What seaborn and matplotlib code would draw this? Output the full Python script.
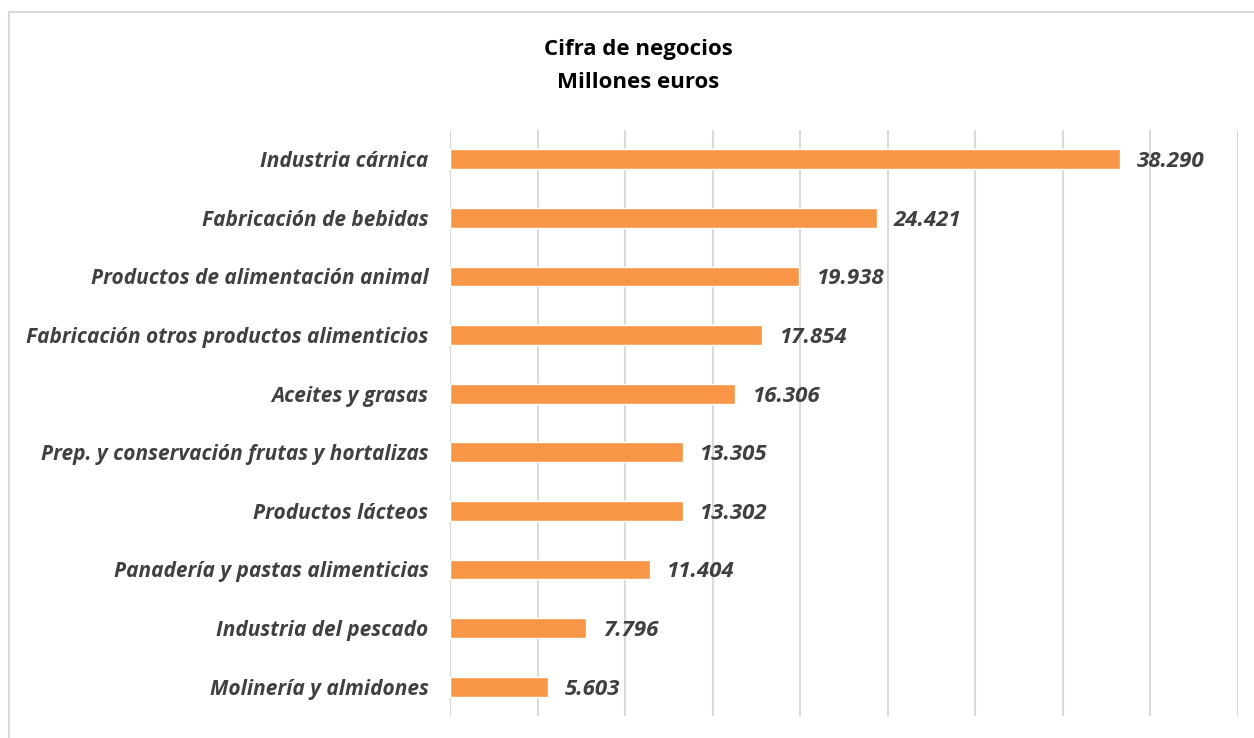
import matplotlib
matplotlib.use("Agg")
import matplotlib.pyplot as plt
import seaborn as sns
import pandas as pd
from matplotlib.patches import Rectangle

categories = [
    "Industria cárnica",
    "Fabricación de bebidas",
    "Productos de alimentación animal",
    "Fabricación otros productos alimenticios",
    "Aceites y grasas",
    "Prep. y conservación frutas y hortalizas",
    "Productos lácteos",
    "Panadería y pastas alimenticias",
    "Industria del pescado",
    "Molinería y almidones",
]
values = [38290, 24421, 19938, 17854, 16306, 13305, 13302, 11404, 7796, 5603]
value_labels = ["38.290", "24.421", "19.938", "17.854", "16.306",
                "13.305", "13.302", "11.404", "7.796", "5.603"]
title_lines = ["Cifra de negocios", "Millones euros"]

df = pd.DataFrame({"sector": categories, "value": values})

sns.set_style("white")
plt.rcParams['font.family'] = ['Open Sans', 'DejaVu Sans']

fig = plt.figure(figsize=(12.54, 7.38), dpi=100)
ax = fig.add_axes([450 / 1254, 1 - 716 / 738, 787.5 / 1254, 586 / 738])

sns.barplot(data=df, x="value", y="sector", color="#F79646", saturation=1,
            width=0.34, ax=ax, zorder=3)

ax.set_xlim(0, 45000)
ax.set_ylim(9.5, -0.5)
ax.set_xticks(range(0, 45001, 5000))
ax.xaxis.grid(True, color="#d9d9d9", linewidth=1.5, zorder=0)
ax.tick_params(axis="x", length=0, labelbottom=False)
ax.tick_params(axis="y", length=0, pad=15.5)
ax.set_xlabel("")
ax.set_ylabel("")
for lbl in ax.get_yticklabels():
    lbl.set_fontsize(15)
    lbl.set_fontweight("bold")
    lbl.set_fontstyle("italic")
    lbl.set_color("#404040")
for s in ax.spines.values():
    s.set_visible(False)

for i, (v, t) in enumerate(zip(values, value_labels)):
    ax.text(v + 950, i + 0.04, t, va="center", ha="left", fontsize=16,
            fontweight="bold", fontstyle="italic", color="#404040")

for k, (line, ypx) in enumerate(zip(title_lines, [50, 83])):
    fig.text(638 / 1254, 1 - ypx / 738, line, ha="center", va="center",
             fontsize=16, fontweight="bold", color="black")

fig.patches.append(Rectangle((9 / 1254, -0.05), 1.2, 1 - 12 / 738 + 0.05,
                             transform=fig.transFigure, fill=False,
                             edgecolor="#d9d9d9", linewidth=1.5))

fig.savefig("out.png", dpi=100)
